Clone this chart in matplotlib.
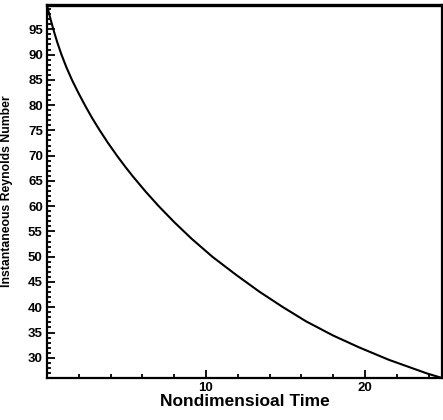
import numpy as np
import matplotlib.pyplot as plt
from matplotlib.ticker import MultipleLocator

# values
time = [0.0, 0.2, 0.4, 0.63, 0.9, 1.22, 1.6, 1.98, 2.4, 2.83, 3.3, 3.82,
        4.4, 4.9, 5.4, 6.2, 7.0, 8.0, 9.1, 10.4, 11.9, 13.35, 14.8, 16.3,
        18.0, 19.6, 21.5, 23.9, 24.85]
reynolds = [99.8, 97.3, 95.0, 92.6, 90.1, 87.5, 84.8, 82.4, 79.9, 77.5, 75.1,
            72.6, 70.0, 67.9, 65.9, 62.9, 60.1, 56.85, 53.55, 50.0, 46.4, 43.1,
            40.1, 37.2, 34.4, 32.1, 29.6, 26.9, 26.0]

x_ticks = [10, 20]
y_ticks = list(range(30, 100, 5))

plt.rcParams['font.family'] = ['Liberation Sans', 'DejaVu Sans']

fig = plt.figure(figsize=(4.43, 4.20), dpi=100)
ax = fig.add_axes([0.106, 0.1, 0.892, 0.888])

ax.plot(time, reynolds, color='black', lw=1.5, solid_joinstyle='round')

ax.set_xlim(0, 24.85)
ax.set_ylim(26, 99.8)
ax.set_xticks(x_ticks)
ax.set_yticks(y_ticks)
ax.xaxis.set_minor_locator(MultipleLocator(2))
ax.yaxis.set_minor_locator(MultipleLocator(1))

ax.tick_params(which='both', direction='in', width=1.3, top=False, right=False)
ax.tick_params(which='major', length=6, labelsize=9.5, pad=3)
ax.tick_params(which='minor', length=3)
for lbl in ax.get_xticklabels() + ax.get_yticklabels():
    lbl.set_fontweight('bold')

for side in ['left', 'bottom', 'right']:
    ax.spines[side].set_linewidth(1.6)
ax.spines['top'].set_linewidth(2.4)

ax.set_xlabel('Nondimensioal Time', fontsize=12.5, fontweight='bold', labelpad=0)
ax.set_ylabel('Instantaneous Reynolds Number', fontsize=8.8, fontweight='bold')
ax.yaxis.set_label_coords(-0.085, 0.5)

fig.savefig('out.png', dpi=100)
